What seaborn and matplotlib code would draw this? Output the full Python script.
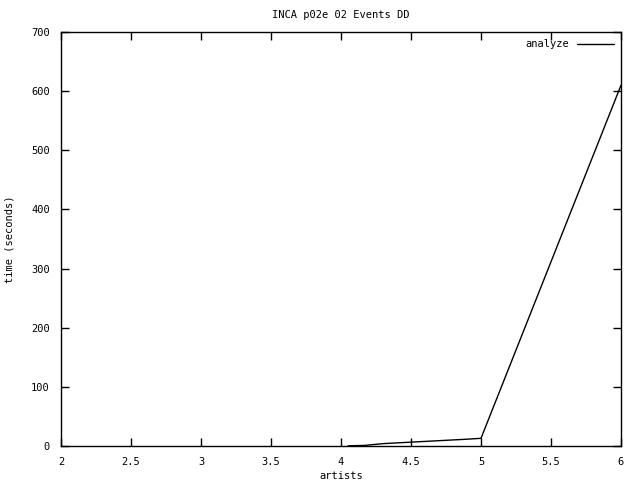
import pandas as pd
import seaborn as sns
import matplotlib.pyplot as plt

# values
artists = [4.05, 4.17, 4.3, 4.5, 4.7, 4.9, 5.0, 6.0]
seconds = [0.3, 1, 4, 6.5, 9, 11.5, 13, 610]
series = ["analyze"] * len(artists)

x_ticks = [2, 2.5, 3, 3.5, 4, 4.5, 5, 5.5, 6]
x_labels = ["2", "2.5", "3", "3.5", "4", "4.5", "5", "5.5", "6"]
y_ticks = [0, 100, 200, 300, 400, 500, 600, 700]

df = pd.DataFrame({"artists": artists, "time": seconds, "series": series})

sns.set_style("white")
plt.rcParams["font.family"] = ["DejaVu Sans Mono"]
plt.rcParams["font.size"] = 7.5
plt.rcParams["text.color"] = "black"
plt.rcParams["axes.labelcolor"] = "black"
plt.rcParams["xtick.color"] = "black"
plt.rcParams["ytick.color"] = "black"

fig = plt.figure(figsize=(6.4, 4.8), dpi=100)
ax = fig.add_axes([61 / 640, 1 - 446 / 480, 560 / 640, 414 / 480])

sns.lineplot(data=df, x="artists", y="time", hue="series", palette=["black"],
             linewidth=1, ax=ax, estimator=None, sort=False)

ax.set_xlim(2, 6)
ax.set_ylim(0, 700)
ax.set_xticks(x_ticks)
ax.set_xticklabels(x_labels)
ax.set_yticks(y_ticks)
ax.tick_params(direction="in", length=6, width=1, color="black",
               top=True, right=True, bottom=True, left=True, pad=8)
for s in ax.spines.values():
    s.set_color("black")
    s.set_linewidth(1)

ax.set_xlabel("artists", labelpad=3)
ax.set_ylabel("time (seconds)", labelpad=12)
ax.set_title("INCA p02e 02 Events DD", fontsize=7.5, pad=10)

leg = ax.legend(loc="upper right", frameon=False, markerfirst=False,
                handlelength=3.5, borderaxespad=0.3)

fig.savefig("out.png", dpi=100)
